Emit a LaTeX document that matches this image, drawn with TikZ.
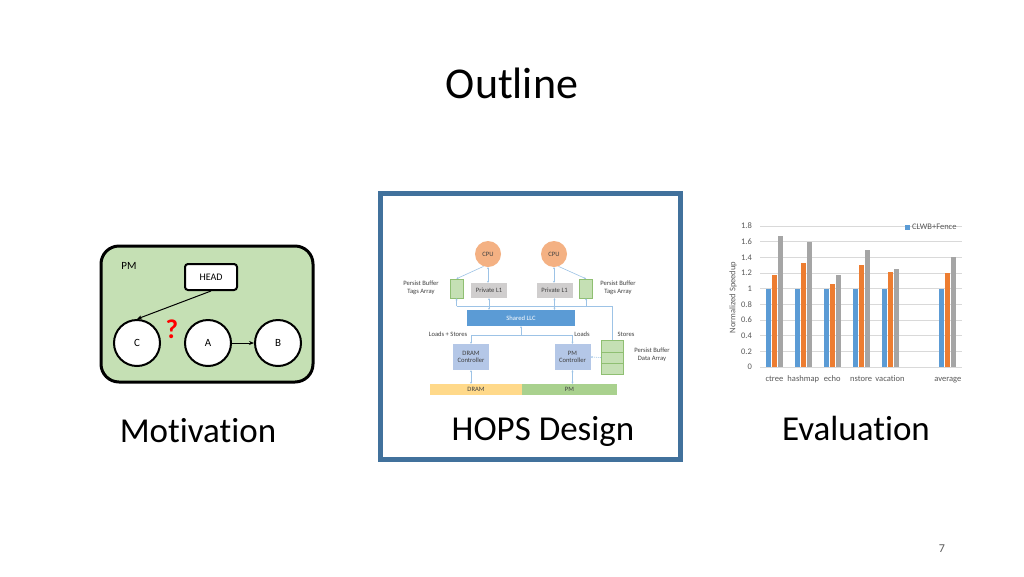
\documentclass[tikz,border=0pt]{standalone}
\usepackage{fontspec}
\setmainfont[Ligatures=NoCommon]{Carlito}
\usetikzlibrary{arrows.meta}
\newcommand\fsz[1]{\fontsize{#1}{#1}\selectfont}
\definecolor{frameblue}{HTML}{41719C}
\definecolor{pmgreen}{HTML}{C5E0B4}
\definecolor{taggreen}{HTML}{C5E0B4}
\definecolor{tagborder}{HTML}{8FBF72}
\definecolor{cpuorange}{HTML}{F4B183}
\definecolor{l1gray}{HTML}{D0CECE}
\definecolor{llcblue}{HTML}{5B9BD5}
\definecolor{ctrlblue}{HTML}{B4C7E7}
\definecolor{dramyellow}{HTML}{FFD98A}
\definecolor{pmbar}{HTML}{A9D18E}
\definecolor{wire}{HTML}{9DC3E6}
\definecolor{smalltext}{HTML}{404040}
\definecolor{barblue}{HTML}{5B9BD5}
\definecolor{barorange}{HTML}{ED7D31}
\definecolor{bargray}{HTML}{A5A5A5}
\definecolor{gridgray}{HTML}{D9D9D9}
\definecolor{axtext}{HTML}{595959}
\begin{document}
\begin{tikzpicture}[x=1pt,y=-1pt,
  circnode/.style={circle, draw=black, line width=2pt, fill=white, minimum size=46pt, inner sep=0pt, font=\fsz{11}},
  headbox/.style={rectangle, rounded corners=3pt, draw=black, line width=2pt, fill=white, minimum width=52pt, minimum height=26pt, font=\fsz{10}},
  bigarrow/.style={-{Stealth[length=5pt,width=4pt]}, line width=1pt, black},
  cpunode/.style={circle, fill=cpuorange, minimum size=26pt, inner sep=0pt, font=\fsz{6.6}, text=smalltext},
  l1node/.style={rectangle, fill=l1gray, minimum width=36pt, minimum height=15pt, inner sep=0pt, font=\fsz{6.6}, text=smalltext},
  tagnode/.style={rectangle, draw=tagborder, line width=0.5pt, fill=taggreen, minimum width=13pt, minimum height=19pt, inner sep=0pt},
  ctrlnode/.style={rectangle, fill=ctrlblue, minimum width=36pt, minimum height=26pt, inner sep=0pt, font=\fsz{6.6}, text=smalltext, align=center},
  tiny/.style={font=\fsz{6.6}, text=smalltext, align=center, inner sep=0pt},
  wirearrow/.style={wire, line width=0.6pt, -{Stealth[length=2pt,width=2pt]}},
  wirebi/.style={wire, line width=0.6pt, {Stealth[length=2pt,width=2pt]}-{Stealth[length=2pt,width=2pt]}},
  wireline/.style={wire, line width=0.6pt},
  label/.style={font=\fsz{35}, inner sep=0pt},
  ticklab/.style={font=\fsz{8.5}, text=axtext, inner sep=0pt},
]
\useasboundingbox (0,0) rectangle (1024,576);
\fill[white] (0,0) rectangle (1024,576);

% title
\node[font=\fsz{44}, inner sep=0pt] (title) at (512,83) {Outline};

% ---------------- Motivation panel ----------------
\node[rectangle, rounded corners=18pt, draw=black, line width=3pt, fill=pmgreen,
      minimum width=212pt, minimum height=136pt] (pm) at (207,314) {};
\node[font=\fsz{11}, inner sep=0pt] (pmlabel) at (129,266) {PM};
\node[headbox] (head) at (211,277) {HEAD};
\node[circnode] (c) at (137,343) {C};
\node[circnode] (a) at (208,343) {A};
\node[circnode] (b) at (278,343) {B};
\node[font=\bfseries\fsz{27}, text=red, inner sep=0pt] (q) at (172,329) {?};
\draw[bigarrow] (head.south) -- (c.north);
\draw[bigarrow] (a.east) -- (b.west);
\node[label] (motiv) at (198,431) {Motivation};

% ---------------- HOPS Design panel ----------------
\node[rectangle, draw=frameblue, line width=5pt, minimum width=300pt, minimum height=266pt] (frame) at (530.5,326.5) {};

\node[cpunode] (cpu1) at (488,254) {CPU};
\node[cpunode] (cpu2) at (554,254) {CPU};
\node[l1node] (l1a) at (489,290.5) {Private L1};
\node[l1node] (l1b) at (554.5,290.5) {Private L1};
\node[tagnode] (taga) at (456.5,288.5) {};
\node[tagnode] (tagb) at (586,288.5) {};
\node[tiny] (tagatext) at (421,287.5) {Persist Buffer\\[1pt]Tags Array};
\node[tiny] (tagbtext) at (618,287.5) {Persist Buffer\\[1pt]Tags Array};
\node[rectangle, fill=llcblue, minimum width=108pt, minimum height=16pt, inner sep=0pt, font=\fsz{6.6}, text=white] (llc) at (521,318) {Shared LLC};
\node[ctrlnode] (dramc) at (471,357) {DRAM\\[1pt]Controller};
\node[ctrlnode] (pmc) at (572.5,357) {PM\\[1pt]Controller};
\node[rectangle, draw=tagborder, line width=0.5pt, fill=taggreen, minimum width=22pt, minimum height=34pt, inner sep=0pt] (data) at (612,357.5) {};
\draw[tagborder, line width=0.4pt] (data.west |- 0,352) -- (data.east |- 0,352);
\draw[tagborder, line width=0.4pt] (data.west |- 0,363) -- (data.east |- 0,363);
\node[tiny] (datatext) at (652,355) {Persist Buffer\\[1pt]Data Array};
\node[tiny] (lstext) at (448,334.5) {Loads + Stores};
\node[tiny] (ldtext) at (582,334.5) {Loads};
\node[tiny] (sttext) at (626,334.5) {Stores};
\node[rectangle, fill=dramyellow, minimum width=92pt, minimum height=11pt, inner sep=0pt, font=\fsz{6.6}, text=smalltext] (drambar) at (476,389.5) {DRAM};
\node[rectangle, fill=pmbar, minimum width=95pt, minimum height=11pt, inner sep=0pt, font=\fsz{6.6}, text=smalltext] (pmbarn) at (569.5,389.5) {PM};

% wires
\draw[wirebi] (cpu1.south) -- (l1a.north -| cpu1.south);
\draw[wirebi] (cpu2.south) -- (l1b.north -| cpu2.south);
\draw[wirearrow] (cpu1.250) -- (taga.north);
\draw[wirearrow] (cpu2.290) -- (tagb.north);
\coordinate (busl) at (456.5,306);
\coordinate (busm) at (586,306);
\coordinate (busr) at (612,306);
\draw[wireline] (busl) -- (busr) -- (data.north);
\draw[wirearrow] (busl) -- (taga.south);
\draw[wirearrow] (busm) -- (tagb.south);
\draw[wirebi] (l1a.south) -- (l1a.south |- llc.north);
\draw[wirebi] (l1b.south) -- (l1b.south |- llc.north);
\coordinate (lsl) at (471,335);
\coordinate (lsr) at (572.5,335);
\coordinate (lsm) at (521,335);
\draw[wireline] (lsl) -- (lsr);
\draw[wirearrow] (lsm) -- (llc.south);
\draw[wirearrow] (lsl) -- (dramc.north);
\draw[wirearrow] (lsr) -- (pmc.north);
\draw[wirearrow, dash pattern=on 1pt off 1pt] (data.west) -- (pmc.east);
\draw[wirebi] (dramc.south) -- (dramc.south |- drambar.north);
\draw[wirebi] (pmc.south) -- (pmc.south |- pmbarn.north);

\node[label] (hops) at (543,431) {HOPS Design};

% ---------------- Evaluation chart ----------------
\foreach \v/\t in {0/0,0.2/0.2,0.4/0.4,0.6/0.6,0.8/0.8,1/1,1.2/1.2,1.4/1.4,1.6/1.6,1.8/1.8} {
  \draw[gridgray, line width=0.5pt] (760,{367-78.33*\v}) -- (962,{367-78.33*\v});
  \node[ticklab, anchor=east] at (752,{367-78.33*\v}) {\t};
}
\foreach \i/\b/\o/\g/\lab in {0/1/1.17/1.67/ctree,1/1/1.33/1.59/hashmap,2/1/1.06/1.18/echo,3/1/1.30/1.49/nstore,4/1/1.21/1.25/vacation,6/1/1.20/1.41/average} {
  \pgfmathsetmacro\cc{774.4+28.9*\i}
  \fill[barblue] ({\cc-8.5},367) rectangle ({\cc-3.5},{367-78.33*\b});
  \fill[barorange] ({\cc-2.5},367) rectangle ({\cc+2.5},{367-78.33*\o});
  \fill[bargray] ({\cc+3.5},367) rectangle ({\cc+8.5},{367-78.33*\g});
  \node[ticklab, anchor=base] at (\cc,381.5) {\lab};
}
\node[ticklab, rotate=90] (ytitle) at (733,297.5) {Normalized Speedup};
\fill[barblue] (905,224.5) rectangle (910,229.5);
\node[ticklab, anchor=west] (legend) at (912,227) {CLWB+Fence};

\node[label] (eval) at (856,428) {Evaluation};

% page number
\node[font=\fsz{12}, text=axtext, inner sep=0pt] (pageno) at (942,549) {7};
\end{tikzpicture}
\end{document}
